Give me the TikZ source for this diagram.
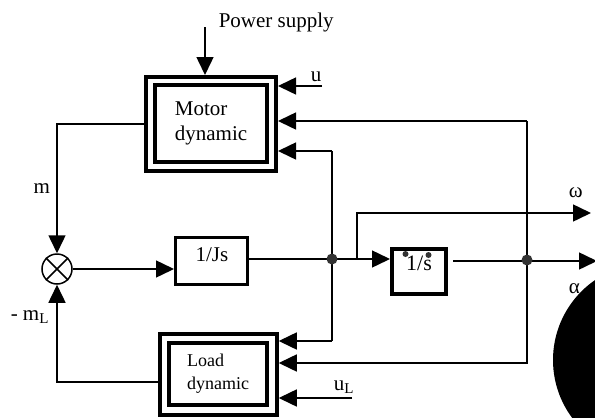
\documentclass[tikz,border=0pt]{standalone}
\usepackage{fontspec}
\setmainfont{Liberation Serif}
\usetikzlibrary{arrows.meta}
\begin{document}
\begin{tikzpicture}[x=1pt,y=-1pt,
  line width=1.5pt,
  arr/.style={-{Triangle[length=18pt,width=17pt]}},
  thickbox/.style={draw, line width=3.5pt, inner sep=0pt},
  lbl/.style={font=\fontsize{21}{25}\selectfont, inner sep=0pt},
  dotn/.style={circle, fill=black!80, inner sep=0pt, minimum size=11pt},
  smalldot/.style={circle, fill=black!80, inner sep=0pt, minimum size=6pt}]
\useasboundingbox (0,0) rectangle (595,418);
\clip (0,0) rectangle (595,418);

% big black blob
\fill (650,360) circle (97pt);

% blocks
\node[thickbox, line width=4pt, minimum width=130pt, minimum height=94pt] (motor) at (211,124) {};
\node[thickbox, line width=4pt, minimum width=112pt, minimum height=77pt, lbl, align=left] (motorin) at (211,123.5) {Motor\\dynamic};
\node[thickbox, minimum width=117pt, minimum height=81pt] (load) at (218.5,374.5) {};
\node[thickbox, minimum width=98pt, minimum height=62pt, font=\fontsize{18}{23}\selectfont, align=left] (loadin) at (218,374) {Load\\dynamic};
\node[thickbox, line width=3pt, minimum width=72pt, minimum height=47pt] (js) at (211.5,261) {};
\node[lbl, anchor=base] (jstxt) at (212,261) {1/Js};
\node[thickbox, line width=4pt, minimum width=54pt, minimum height=45pt] (sbox) at (419,271.5) {};
\node[lbl, font=\fontsize{22}{25}\selectfont, anchor=base] (stxt) at (419,270) {1/s};
\node[smalldot] (sd1) at (405.5,254) {};
\node[smalldot] (sd2) at (428.5,255) {};
\node[draw, circle, minimum size=30pt, inner sep=0pt] (sum) at (57,269) {};
\draw (sum.north west) -- (sum.south east) (sum.north east) -- (sum.south west);

% labels
\node[lbl, anchor=base west] (pstxt) at (218,27) {Power supply};
\node[lbl, anchor=base west] (utxt) at (310,81) {u};
\node[lbl, anchor=base west] (ultxt) at (333,390) {u\raisebox{-0.35ex}{\fontsize{15}{15}\selectfont L}};
\node[lbl, anchor=base west] (mtxt) at (33,193) {m};
\node[lbl, anchor=base west] (mltxt) at (10,320) {- m\raisebox{-0.35ex}{\fontsize{15}{15}\selectfont L}};
\node[lbl, anchor=base west] (wtxt) at (568,197) {ω};
\node[lbl, anchor=base west] (atxt) at (568,293) {α};

% coordinates
\coordinate (ps) at (205,27);
\coordinate (uend) at (322,86);
\coordinate (r1) at (527,121);
\coordinate (r2) at (527,363);
\coordinate (t1) at (332,151);
\coordinate (b1) at (332,341);
\coordinate (j1) at (332,259);
\coordinate (w0) at (357,259);
\coordinate (w1) at (357,213);
\coordinate (w2) at (591,213);
\coordinate (o1) at (453,261);
\coordinate (o2) at (597,261);
\coordinate (ul) at (352,398);
\coordinate (lk) at (57,382);

% connectors
\draw[arr] (ps) -- (motor.north -| ps);
\draw[arr] (uend) -- (motor.east |- uend);
\draw[arr] (r1) -- (motor.east |- r1);
\draw[arr] (r1) -- (r2) -- (load.east |- r2);
\draw[arr] (t1) -- (motor.east |- t1);
\draw (t1) -- (b1);
\draw[arr] (b1) -- (load.east |- b1);
\draw[arr] (ul) -- (load.east |- ul);
\draw[arr] (motor.west) -- (motor.west -| sum) -- (sum.north);
\draw[arr] (load.west |- lk) -- (lk) -- (sum.south);
\draw[arr] (sum.east) -- (sum.east -| js.west);
\draw[arr] (js.east |- j1) -- (j1) -- (sbox.west |- j1);
\draw[arr] (w0) -- (w1) -- (w2);
\draw[arr] (o1) -- (o2);
\node[dotn] (d1) at (j1) {};
\node[dotn] (d2) at (527,260) {};
\end{tikzpicture}
\end{document}
